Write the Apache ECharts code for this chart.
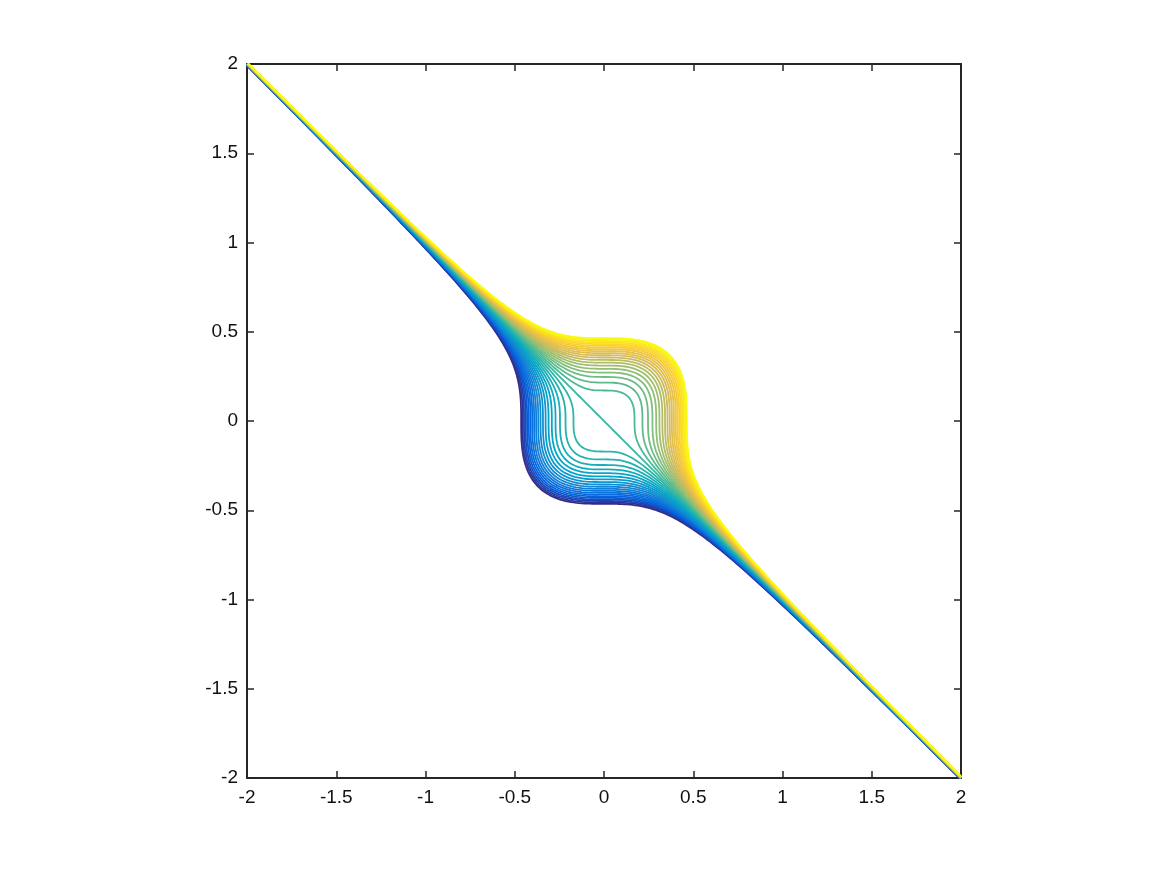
<!DOCTYPE html>
<html>
<head>
<meta charset="utf-8">
<title>contour</title>
<script src="https://cdn.jsdelivr.net/npm/echarts@6/dist/echarts.min.js"></script>
<style>
  html, body { margin: 0; padding: 0; background: #fff; }
  #chart { width: 1166px; height: 875px; }
</style>
</head>
<body>
<div id="chart"></div>
<script>
// contour levels of z = x^3 + y^3 (41 lines, -0.1 .. 0.1)
var LEVELS = [-0.1, -0.095, -0.09, -0.085, -0.08, -0.075, -0.07, -0.065, -0.06, -0.055,
  -0.05, -0.045, -0.04, -0.035, -0.03, -0.025, -0.02, -0.015, -0.01, -0.005, 0,
  0.005, 0.01, 0.015, 0.02, 0.025, 0.03, 0.035, 0.04, 0.045, 0.05,
  0.055, 0.06, 0.065, 0.07, 0.075, 0.08, 0.085, 0.09, 0.095, 0.1];
var X_TICKS = [-2, -1.5, -1, -0.5, 0, 0.5, 1, 1.5, 2];
var Y_TICKS = [-2, -1.5, -1, -0.5, 0, 0.5, 1, 1.5, 2];

// parula colormap
var PARULA = ['#352a87', '#0363e1', '#1485d4', '#06a7c6', '#38b99e',
  '#92bf73', '#d9ba56', '#fcce2e', '#f9fb0e'];

function hex(c) {
  return [parseInt(c.substr(1, 2), 16), parseInt(c.substr(3, 2), 16), parseInt(c.substr(5, 2), 16)];
}
function parula(t) {
  var n = PARULA.length - 1;
  var p = Math.min(n - 1e-9, Math.max(0, t * n));
  var i = Math.floor(p), f = p - i;
  var a = hex(PARULA[i]), b = hex(PARULA[i + 1]);
  var r = a.map(function (v, k) { return Math.round(v + (b[k] - v) * f); });
  return 'rgb(' + r.join(',') + ')';
}

// level set z = c traced along both axes, clipped to the box
function contourLine(c) {
  var pts = [];
  var lo = X_TICKS[0], hi = X_TICKS[X_TICKS.length - 1];
  var step = 0.005;
  for (var v = lo; v <= hi + 1e-9; v += step) {
    var y = Math.cbrt(c - v * v * v);
    if (y >= lo - 1e-9 && y <= hi + 1e-9) pts.push([v, y]);
    var x = Math.cbrt(c - v * v * v);
    if (x >= lo - 1e-9 && x <= hi + 1e-9) pts.push([x, v]);
  }
  pts.sort(function (a, b) { return (a[0] - a[1]) - (b[0] - b[1]); });
  return pts;
}

var series = LEVELS.map(function (c, i) {
  return {
    type: 'line',
    data: contourLine(c),
    showSymbol: false,
    silent: true,
    clip: true,
    lineStyle: { color: parula(i / (LEVELS.length - 1)), width: 1.8 },
    z: 2
  };
});

var axisColor = '#262626';
var labelFont = 'Liberation Sans, Arial, sans-serif';
function makeX(pos, labels) {
  return {
    type: 'value', position: pos, min: X_TICKS[0], max: X_TICKS[X_TICKS.length - 1], interval: 0.5,
    axisLine: { show: true, onZero: false, lineStyle: { color: axisColor, width: 2 } },
    axisTick: { show: true, inside: true, length: 7, lineStyle: { color: axisColor, width: 1.5 } },
    axisLabel: { show: labels, color: '#111', fontSize: 19, fontFamily: labelFont, margin: 10 },
    splitLine: { show: false }
  };
}
function makeY(pos, labels) {
  return {
    type: 'value', position: pos, min: Y_TICKS[0], max: Y_TICKS[Y_TICKS.length - 1], interval: 0.5,
    axisLine: { show: true, onZero: false, lineStyle: { color: axisColor, width: 2 } },
    axisTick: { show: true, inside: true, length: 7, lineStyle: { color: axisColor, width: 1.5 } },
    axisLabel: { show: labels, color: '#111', fontSize: 19, fontFamily: labelFont, margin: 9, padding: [3, 0, 0, 0] },
    splitLine: { show: false }
  };
}

var chart = echarts.init(document.getElementById('chart'));
chart.setOption({
  backgroundColor: '#fff',
  animation: false,
  grid: { left: 247, top: 64, width: 714, height: 714, containLabel: false },
  xAxis: [makeX('bottom', true), makeX('top', false)],
  yAxis: [makeY('left', true), makeY('right', false)],
  series: series
});
</script>
</body>
</html>
